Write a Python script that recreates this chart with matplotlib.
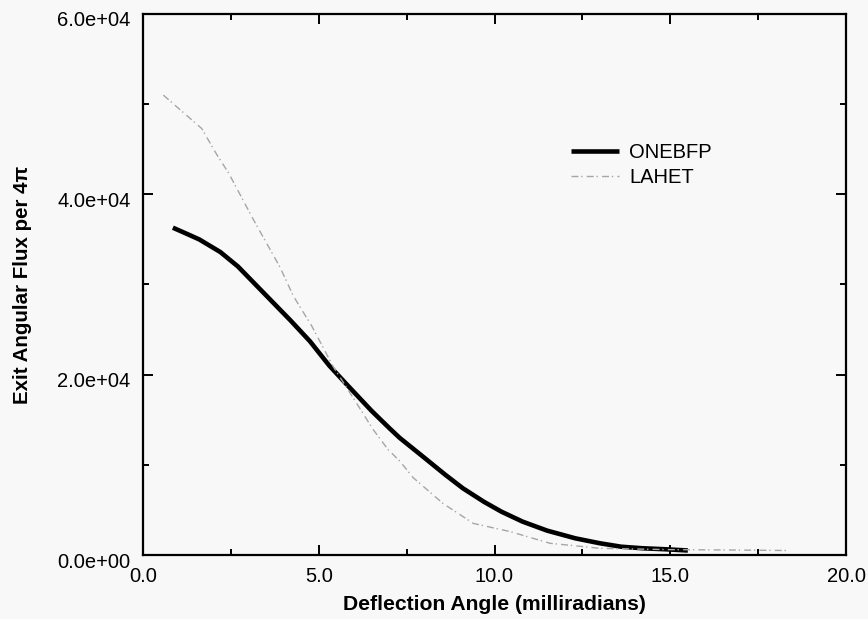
import matplotlib
matplotlib.use("Agg")
import matplotlib.pyplot as plt
from matplotlib.ticker import MultipleLocator, FormatStrFormatter
from matplotlib.transforms import ScaledTranslation

plt.rcParams['font.family'] = ['Liberation Sans', 'DejaVu Sans']

# ONEBFP (thick black)
onebfp_x = [0.85, 1.2, 1.6, 2.2, 2.7, 3.2, 3.8, 4.2, 4.75, 5.3, 5.8, 6.5,
            7.0, 7.3, 8.0, 8.6, 9.1, 9.7, 10.2, 10.8, 11.5, 12.3, 13.0,
            13.6, 14.2, 14.9, 15.5]
onebfp_y = [3.63e4, 3.57e4, 3.50e4, 3.36e4, 3.20e4, 3.00e4, 2.76e4, 2.60e4,
            2.37e4, 2.10e4, 1.89e4, 1.60e4, 1.41e4, 1.30e4, 1.08e4, 0.89e4,
            0.74e4, 0.59e4, 0.48e4, 0.37e4, 0.27e4, 0.185e4, 0.13e4,
            0.092e4, 0.075e4, 0.063e4, 0.05e4]

# LAHET (light grey, broken)
lahet_x = [0.58, 1.67, 2.1, 2.43, 3.14, 3.9, 4.28, 4.8, 5.41, 6.0, 6.55,
           6.97, 7.31, 7.68, 8.54, 9.4, 10.44, 11.58, 13.0, 14.9, 16.8, 18.3]
lahet_y = [5.10e4, 4.73e4, 4.44e4, 4.24e4, 3.72e4, 3.19e4, 2.87e4, 2.54e4,
           2.09e4, 1.73e4, 1.39e4, 1.17e4, 1.04e4, 0.86e4, 0.57e4, 0.35e4,
           0.26e4, 0.13e4, 0.074e4, 0.06e4, 0.055e4, 0.05e4]

bg = '#f8f8f8'
fig = plt.figure(figsize=(8.68, 6.19), dpi=100, facecolor=bg)
ax = fig.add_axes([143/868, 1-555/619, (846-143)/868, (555-14)/619], facecolor=bg)

ax.plot(onebfp_x, onebfp_y, color='black', lw=3.3, solid_capstyle='butt',
        solid_joinstyle='round', label='ONEBFP')
ax.plot(lahet_x, lahet_y, color='0.65', lw=1.0, linestyle=(0, (5, 2, 1, 3)), label='LAHET')

ax.set_xlim(0, 20)
ax.set_ylim(0, 6e4)
ax.xaxis.set_major_locator(MultipleLocator(5))
ax.xaxis.set_minor_locator(MultipleLocator(2.5))
ax.yaxis.set_major_locator(MultipleLocator(2e4))
ax.yaxis.set_minor_locator(MultipleLocator(1e4))
ax.xaxis.set_major_formatter(FormatStrFormatter('%.1f'))
ax.yaxis.set_major_formatter(FormatStrFormatter('%.1e'))

for s in ax.spines.values():
    s.set_linewidth(1.6)

ax.tick_params(which='both', direction='in', top=True, right=True, width=1.4)
ax.tick_params(which='major', length=7, labelsize=14.5)
ax.tick_params(axis='x', which='major', pad=9)
ax.tick_params(axis='y', which='major', pad=9)
ax.tick_params(which='minor', length=4)

ax.set_xlabel('Deflection Angle (milliradians)', fontsize=15.2, fontweight='bold', labelpad=6)
ax.set_ylabel('Exit Angular Flux per 4π', fontsize=14.8, fontweight='bold', labelpad=18)

fig.canvas.draw()
off = ScaledTranslation(0, -5/100, fig.dpi_scale_trans)
for t in ax.yaxis.get_major_ticks():
    t.label1.set_transform(t.label1.get_transform() + off)

ax.legend(loc='upper left', bbox_to_anchor=(0.583, 0.795), frameon=False,
          fontsize=14.5, handlelength=2.4, handletextpad=0.5, labelspacing=0.3,
          borderpad=0.4)

fig.savefig('out.png', dpi=100, facecolor=bg)
